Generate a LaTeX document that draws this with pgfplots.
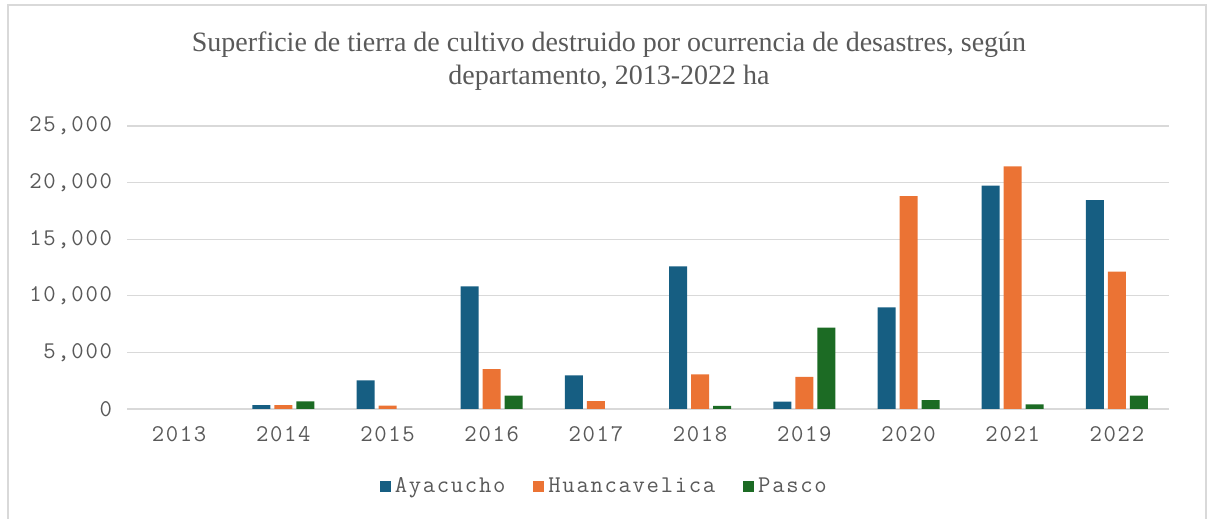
\documentclass[border=0pt]{standalone}
\usepackage{pgfplots}
\pgfplotsset{compat=1.18}
\usepackage{fontspec}
\setmainfont{Liberation Serif}
\setmonofont{Latin Modern Mono}[LetterSpace=7]

\definecolor{cBlue}{RGB}{22,94,130}
\definecolor{cOrange}{RGB}{235,115,52}
\definecolor{cGreen}{RGB}{28,107,36}
\definecolor{gridgray}{RGB}{217,217,217}
\definecolor{txtgray}{RGB}{89,89,89}

\begin{document}
\begin{tikzpicture}[x=1pt,y=1pt]
\path[use as bounding box] (0,0) rectangle (605.5,259.5);
\draw[gridgray, line width=0.6pt] (4,-2) rectangle (603,257);
\node[font=\fontsize{14}{16.5}\selectfont, text=txtgray, align=center] at (304.5,228.75)
  {Superficie de tierra de cultivo destruido por ocurrencia de desastres, según\\departamento, 2013-2022 ha};
\begin{axis}[
    at={(63.5pt,55pt)}, anchor=south west,
    scale only axis,
    width=521pt, height=141.5pt,
    xmin=-0.5, xmax=9.5,
    ymin=0, ymax=25000,
    ytick={0,5000,10000,15000,20000,25000},
    xtick={0,...,9},
    xticklabels={2013,2014,2015,2016,2017,2018,2019,2020,2021,2022},
    scaled y ticks=false,
    /pgf/number format/.cd, 1000 sep={,}, assume math mode=true, /pgfplots/.cd,
    ybar=2pt, bar width=9pt,
    ymajorgrids, grid style={gridgray, line width=0.6pt},
    axis line style={draw=none},
    major tick length=0pt,
    tick label style={font=\fontsize{12}{12}\ttfamily, text=txtgray},
    yticklabel style={xshift=-4pt},
    xticklabel style={yshift=-5pt},
    legend columns=3,
    legend style={at={(0.459,-0.2756)}, anchor=center, draw=none,
        font=\fontsize{12}{12}\ttfamily, text=txtgray,
        /tikz/every even column/.append style={column sep=12pt}},
    legend image code/.code={\fill[#1] (0pt,-2.75pt) rectangle (5.5pt,2.75pt);},
]
\addplot[fill=cBlue, draw=none] coordinates {
(1,350) (2,2530) (3,10840) (4,2970) (5,12600) (6,650) (7,8980) (8,19730) (9,18460)};
\addplot[fill=cOrange, draw=none] coordinates {
(1,350) (2,290) (3,3530) (4,690) (5,3060) (6,2830) (7,18810) (8,21440) (9,12130)};
\addplot[fill=cGreen, draw=none] coordinates {
(1,680) (3,1180) (5,270) (6,7180) (7,790) (8,410) (9,1180)};
\legend{Ayacucho,Huancavelica,Pasco}
\end{axis}
\end{tikzpicture}
\end{document}
